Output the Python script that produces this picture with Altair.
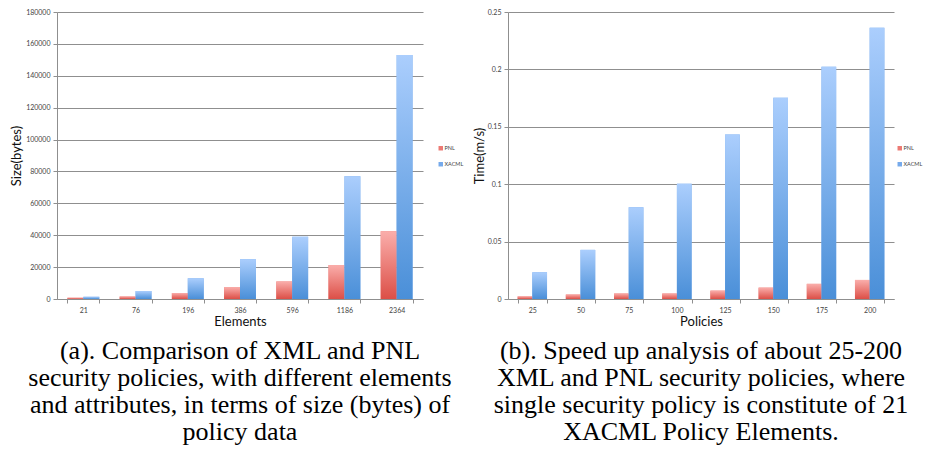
import altair as alt
import pandas as pd

# ---- data ----
elements = ["21", "76", "196", "386", "596", "1186", "2364"]
size_pnl = [800, 1600, 3800, 7500, 11000, 21300, 42500]
size_xacml = [1400, 5000, 13000, 25000, 39000, 77000, 153000]

policies = ["25", "50", "75", "100", "125", "150", "175", "200"]
time_pnl = [0.0023, 0.0040, 0.0048, 0.0048, 0.0073, 0.0099, 0.0132, 0.0166]
time_xacml = [0.0234, 0.0428, 0.0800, 0.1005, 0.1433, 0.1754, 0.2024, 0.2362]

series = ["PNL", "XACML"]

caption_a = ["(a). Comparison of XML and PNL",
             "security policies, with different elements",
             "and attributes, in terms of size (bytes) of",
             "policy data"]
caption_b = ["(b). Speed up analysis of about 25-200",
             "XML and PNL security policies, where",
             "single security policy is constitute of 21",
             "XACML Policy Elements."]

def make_df(cats, a, b):
    rows = []
    for c, v in zip(cats, a):
        rows.append({"cat": c, "series": "PNL", "value": v})
    for c, v in zip(cats, b):
        rows.append({"cat": c, "series": "XACML", "value": v})
    return pd.DataFrame(rows)

red_grad = alt.Gradient(gradient="linear", x1=0, x2=0, y1=0, y2=1,
                        stops=[alt.GradientStop(color="#faaeab", offset=0),
                               alt.GradientStop(color="#dc4f47", offset=1)])
blue_grad = alt.Gradient(gradient="linear", x1=0, x2=0, y1=0, y2=1,
                         stops=[alt.GradientStop(color="#abcefd", offset=0),
                                alt.GradientStop(color="#4a8fd8", offset=1)])

GRID = "#8f8f8f"
LABEL = "#444444"

def panel(df, cats, xtitle, ytitle, ymax, ystep, fmt, w, h, caption, legx, ytp):
    yvals = []
    v = 0.0
    while v <= ymax + 1e-9:
        yvals.append(round(v, 6))
        v += ystep
    base = alt.Chart(df).encode(
        x=alt.X("cat:N", sort=cats, title=xtitle,
                scale=alt.Scale(paddingInner=0.39, paddingOuter=0.2),
                axis=alt.Axis(labelAngle=0, tickBand="extent", tickSize=4,
                              tickColor=GRID, domainColor=GRID,
                              labelFont="Lato", labelFontSize=7, labelColor=LABEL,
                              labelPadding=3, titleFont="Lato", titleFontSize=13,
                              titleFontWeight="normal", titleColor="#111111",
                              titlePadding=2)),
        xOffset=alt.XOffset("series:N", sort=series),
        y=alt.Y("value:Q", title=ytitle,
                scale=alt.Scale(domain=[0, ymax], nice=False),
                axis=alt.Axis(values=yvals, format=fmt, tickSize=4,
                              tickColor=GRID, domainColor=GRID, gridColor=GRID,
                              grid=True, labelFont="Lato", labelFontSize=7,
                              labelColor=LABEL, labelPadding=3,
                              titleFont="Lato", titleFontSize=13,
                              titleFontWeight="normal", titleColor="#111111",
                              titlePadding=ytp)),
    )
    legend_layer = base.mark_bar().encode(
        color=alt.Color("series:N",
                        scale=alt.Scale(domain=series, range=["#ec7a74", "#76aaeb"]),
                        legend=alt.Legend(title=None, orient="none",
                                          legendX=w + legx, legendY=h / 2 - 10,
                                          symbolType="square", symbolSize=20,
                                          symbolStrokeWidth=0,
                                          labelFont="Lato", labelFontSize=5.5,
                                          labelColor=LABEL, labelOffset=1,
                                          rowPadding=9, padding=0)))
    pnl = base.mark_bar(color=red_grad).transform_filter(alt.datum.series == "PNL")
    xac = base.mark_bar(color=blue_grad).transform_filter(alt.datum.series == "XACML")
    return alt.layer(legend_layer, pnl, xac).properties(
        width=w, height=h,
        title=alt.TitleParams(text=caption, orient="bottom", anchor="middle",
                              font="Liberation Serif", fontSize=26,
                              fontWeight="normal", color="#000000",
                              lineHeight=27, offset=10),
    )

left = panel(make_df(elements, size_pnl, size_xacml), elements,
             "Elements", "Size(bytes)", 180000, 20000, "d", 366, 287, caption_a, 15, 2)
right = panel(make_df(policies, time_pnl, time_xacml), policies,
              "Policies", "Time(m/s)", 0.25, 0.05, "~g", 386, 287, caption_b, 3, 1)

chart = alt.hconcat(left, right, spacing=9).resolve_scale(
    color="independent", x="independent", y="independent", xOffset="independent"
).configure(padding={"top": 0, "left": 2, "right": 0, "bottom": 0}).configure_view(
    stroke=None
)

chart.save("out.html", embed_options={"renderer": "svg", "actions": False})
